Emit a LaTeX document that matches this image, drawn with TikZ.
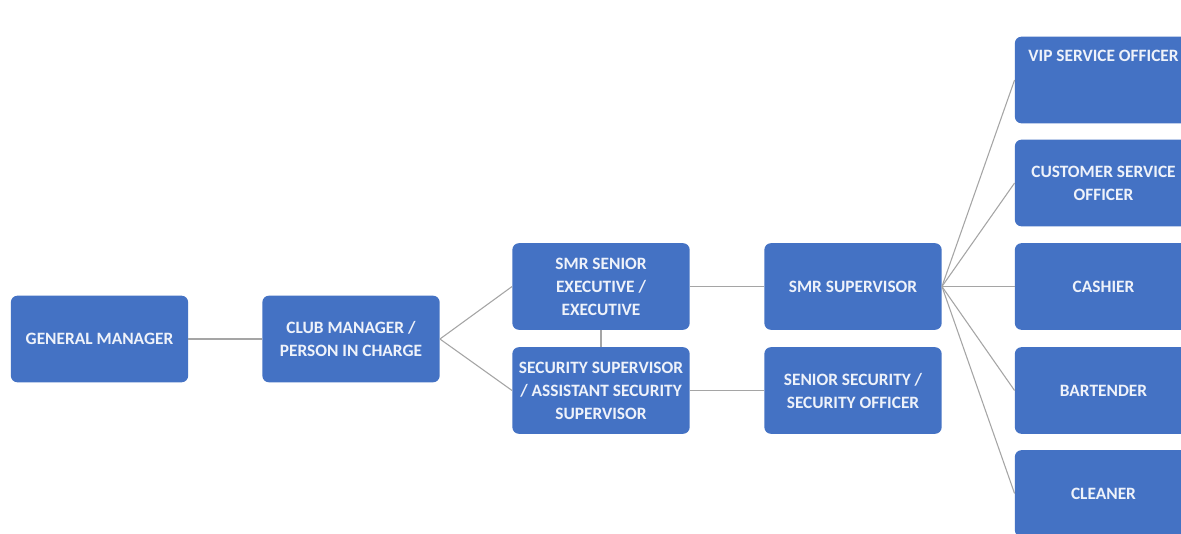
\documentclass[tikz,border=0pt]{standalone}
\usepackage{fontspec}
\setmainfont{Carlito}
\usepackage{tikz}
\definecolor{boxblue}{HTML}{4472C4}
\definecolor{linkgrey}{HTML}{A5A5A5}
\definecolor{roletext}{HTML}{EEF2FA}
\tikzset{
    role/.style={fill=boxblue, draw=none, rounded corners=5pt, text=roletext,
        minimum width=133pt, minimum height=65pt, inner xsep=0pt, align=center,
        font=\fontsize{13}{17.25}\selectfont\bfseries},
    link/.style={draw=linkgrey, line width=0.8pt},
}

\begin{document}
\begin{tikzpicture}[x=0.75pt,y=-0.75pt]
\clip (0,0) rectangle (1181,533);
\fill[white] (0,0) rectangle (1181,533);

\node[role] (gm) at (99.5,339) {GENERAL MANAGER};
\node[role] (club) at (351,339) {CLUB MANAGER /\\PERSON IN CHARGE};
\node[role] (exec) at (601,286.5) {SMR SENIOR\\EXECUTIVE /\\EXECUTIVE};
\node[role] (secsup) at (601,390.5) {SECURITY SUPERVISOR\\/ ASSISTANT SECURITY\\SUPERVISOR};
\node[role] (smrsup) at (853,286.5) {SMR SUPERVISOR};
\node[role] (senior) at (853,390.5) {SENIOR SECURITY /\\SECURITY OFFICER};

\node[role, text depth=36pt] (vip) at (1103.5,80) {VIP SERVICE OFFICER};
\node[role] (cso) at (1103.5,183) {CUSTOMER SERVICE\\OFFICER};
\node[role] (cashier) at (1103.5,286.5) {CASHIER};
\node[role] (bartender) at (1103.5,390.5) {BARTENDER};
\node[role] (cleaner) at (1103.5,493.5) {CLEANER};

\draw[link] (gm.east) -- (club.west);
\draw[link] (club.east) -- (exec.west);
\draw[link] (club.east) -- (secsup.west);
\draw[link] (exec.south) -- (secsup.north);
\draw[link] (exec.east) -- (smrsup.west);
\draw[link] (secsup.east) -- (senior.west);
\foreach \staff in {vip,cso,cashier,bartender,cleaner}
    \draw[link] (smrsup.east) -- (\staff.west);
\end{tikzpicture}
\end{document}
